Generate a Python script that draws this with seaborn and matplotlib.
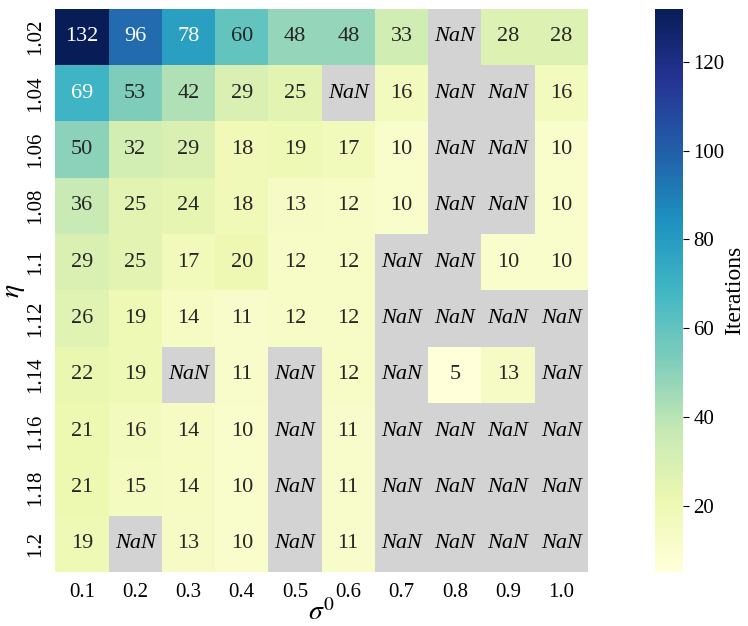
import numpy as np
import pandas as pd
import matplotlib.pyplot as plt
import seaborn as sns

# ── Data ──────────────────────────────────────────────────────────────────
nan = np.nan
sigma0 = ["0.1", "0.2", "0.3", "0.4", "0.5", "0.6", "0.7", "0.8", "0.9", "1.0"]
eta = ["1.02", "1.04", "1.06", "1.08", "1.1", "1.12", "1.14", "1.16", "1.18", "1.2"]

row_102 = [132, 96, 78, 60, 48, 48, 33, nan, 28, 28]
row_104 = [69, 53, 42, 29, 25, nan, 16, nan, nan, 16]
row_106 = [50, 32, 29, 18, 19, 17, 10, nan, nan, 10]
row_108 = [36, 25, 24, 18, 13, 12, 10, nan, nan, 10]
row_110 = [29, 25, 17, 20, 12, 12, nan, nan, 10, 10]
row_112 = [26, 19, 14, 11, 12, 12, nan, nan, nan, nan]
row_114 = [22, 19, nan, 11, nan, 12, nan, 5, 13, nan]
row_116 = [21, 16, 14, 10, nan, 11, nan, nan, nan, nan]
row_118 = [21, 15, 14, 10, nan, 11, nan, nan, nan, nan]
row_120 = [19, nan, 13, 10, nan, 11, nan, nan, nan, nan]

iters = pd.DataFrame(
    [row_102, row_104, row_106, row_108, row_110,
     row_112, row_114, row_116, row_118, row_120],
    index=eta, columns=sigma0,
)

# ── Style ─────────────────────────────────────────────────────────────────
sns.set_style("white")
plt.rcParams["font.family"] = ["Liberation Serif", "DejaVu Serif"]
plt.rcParams["mathtext.fontset"] = "stix"
for key in ("text.color", "axes.labelcolor", "xtick.color", "ytick.color"):
    plt.rcParams[key] = "black"

fig = plt.figure(figsize=(7.48, 6.26), dpi=100)
ax = fig.add_axes([0.074, 0.086, 0.712, 0.90])
cax = fig.add_axes([0.876, 0.086, 0.037, 0.90])

ax.set_facecolor("lightgray")
sns.heatmap(
    iters,
    annot=True,
    fmt=".0f",
    cmap="YlGnBu",
    annot_kws={"fontsize": 16},
    ax=ax,
    cbar_ax=cax,
)

# Label the missing cells
for i in range(iters.shape[0]):
    for j in range(iters.shape[1]):
        if np.isnan(iters.iloc[i, j]):
            ax.text(j + 0.5, i + 0.5, "NaN", ha="center", va="center",
                    fontsize=16, style="italic", color="black")

ax.set_xlabel(r"$\sigma^0$", fontsize=20, labelpad=-2)
ax.set_ylabel(r"$\eta$", fontsize=20, labelpad=-1)
ax.tick_params(axis="both", labelsize=15, length=4, width=0.8)
plt.setp(ax.get_yticklabels(), rotation=90, va="center")
plt.setp(ax.get_xticklabels(), rotation=0)

cax.tick_params(labelsize=15, length=4, width=0.8)
cax.set_ylabel("Iterations", fontsize=17, labelpad=0)

fig.savefig("out.png", dpi=100)
plt.close(fig)
